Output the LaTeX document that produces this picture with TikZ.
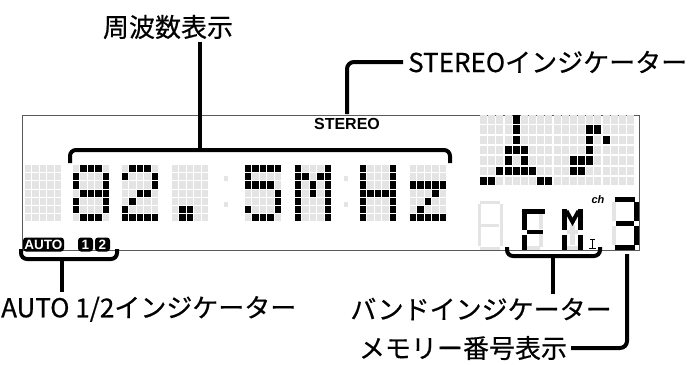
\documentclass[tikz,border=0pt]{standalone}
\usepackage{fontspec}
\setmainfont{Liberation Sans}
\newfontfamily\jpfont[FakeBold=0.5]{Noto Sans CJK JP}
\usetikzlibrary{calc,positioning}
\definecolor{lcdOff}{RGB}{228,228,228}
\definecolor{frameGray}{RGB}{90,90,90}
\tikzset{
  lbl/.style={font=\jpfont\fontsize{26}{28}\selectfont,inner sep=0pt},
  leader/.style={line width=4pt,line cap=butt},
  bracket/.style={line width=4pt,rounded corners=6pt},
  seg/.style={line width=4.6pt,line cap=butt},
  segoff/.style={seg,lcdOff},
  badge/.style={fill=black,text=white,rounded corners=3pt,inner sep=0pt,
    minimum height=14pt,font=\bfseries\fontsize{13.5}{14}\selectfont}
}
% one 5x7 dot-matrix digit: unlit grid, then the lit cells
\newcommand{\MatrixDigit}[3]{%
  \foreach \c in {0,...,4}
    \foreach \r in {0,...,6}
      \fill[lcdOff] ({#1+\c*7.4},{#2+\r*8.2}) rectangle ++(6.4,7.2);
  \foreach \c/\r in {#3}
    \fill[black] ({#1+\c*7.4},{#2+\r*8.2}) rectangle ++(6.4,7.2);}
\begin{document}
\begin{tikzpicture}[x=1pt,y=-1pt]
  \useasboundingbox (0,0) rectangle (692,364);
  % display window
  \draw[frameGray,line width=.8pt] (22,115) rectangle (639,250);
  % frequency digits
  \MatrixDigit{25}{165}{}
  \MatrixDigit{73}{165}{1/0,2/0,3/0,0/1,4/1,0/2,4/2,1/3,2/3,3/3,4/3,0/4,4/4,0/5,4/5,1/6,2/6,3/6}
  \MatrixDigit{122}{165}{1/0,2/0,3/0,0/1,4/1,4/2,2/3,3/3,1/4,0/5,0/6,1/6,2/6,3/6,4/6}
  \MatrixDigit{172}{165}{1/5,2/5,1/6,2/6}
  \MatrixDigit{245}{165}{0/0,1/0,2/0,3/0,4/0,0/1,0/2,1/2,2/2,3/2,4/3,4/4,0/5,4/5,1/6,2/6,3/6}
  \MatrixDigit{295}{165}{0/0,4/0,0/1,1/1,3/1,4/1,0/2,2/2,4/2,0/3,2/3,4/3,0/4,4/4,0/5,4/5,0/6,4/6}
  \MatrixDigit{360}{165}{0/0,4/0,0/1,4/1,0/2,4/2,0/3,1/3,2/3,3/3,4/3,0/4,4/4,0/5,4/5,0/6,4/6}
  \MatrixDigit{410}{165}{0/2,1/2,2/2,3/2,4/2,3/3,2/4,1/5,0/6,1/6,2/6,3/6,4/6}
  \foreach \yy in {176,202} {
    \fill[lcdOff] (224,\yy) rectangle ++(4,5);
    \fill[lcdOff] (344,\yy) rectangle ++(4,5);
  }
  \node[font=\bfseries\fontsize{16}{16}\selectfont,inner sep=0pt] (stereoInd) at (347,124) {STEREO};
  % level graphic, top right
  \foreach \c in {0,...,18}
    \foreach \r in {0,...,6}
      \fill[lcdOff] ({480+\c*8.17},{115+\r*10.3}) rectangle ++(7,8.5);
  \foreach \c/\r in {4/0,4/1,4/2,3/3,4/3,5/3,3/4,5/4,2/5,3/5,4/5,5/5,6/5,0/6,1/6,7/6,8/6,
                     13/1,14/1,13/2,15/2,13/3,11/4,12/4,13/4,11/5,12/5}
    \fill[black] ({480+\c*8.17},{115+\r*10.3}) rectangle ++(7,8.5);
  % band characters
  \draw[segoff,line width=3pt] (480,202) -- (500,202) (479,204) -- (479,246) (501,204) -- (501,246)
    (481,225) -- (499,225) (480,248) -- (500,248);
  \draw[segoff] (541,213) -- (541,229) (541,234) -- (541,247) (526,248) -- (540,248);
  \draw[seg] (522,211.5) -- (545,211.5) (524.5,214) -- (524.5,229.5) (527,232) -- (543,232)
    (524.5,234.5) -- (524.5,250);
  \draw[segoff] (567,232) -- (578,232) (567,248) -- (578,248) (572.5,225) -- (572.5,245);
  \draw[seg] (564.5,209) -- (564.5,229.5) (564.5,234.5) -- (564.5,250)
    (580.5,209) -- (580.5,229.5) (580.5,234.5) -- (580.5,250);
  \draw[line width=4pt] (566.5,211) -- (572.5,222) -- (578.5,211);
  \draw[line width=1.1pt] (590,239.5) -- (595,239.5) (592.5,239.5) -- (592.5,248.5) (589,248.5) -- (596,248.5);
  \node[font=\bfseries\itshape\fontsize{11}{11}\selectfont,inner sep=0pt] (chInd) at (598,200) {ch};
  % memory number
  \draw[segoff] (614,202) -- (614,221) (614,226) -- (614,245);
  \draw[seg] (615,199.5) -- (635,199.5) (636.5,202) -- (636.5,221) (616,223.5) -- (634,223.5)
    (636.5,226) -- (636.5,245) (615,247.5) -- (635,247.5);
  % auto indicator
  \node[badge,minimum width=41pt] (autoInd) at (43.5,244.5) {AUTO};
  \node[badge,minimum width=15pt] (autoOne) at (85.5,244.5) {1};
  \node[badge,minimum width=15pt] (autoTwo) at (102.5,244.5) {2};
  % brackets
  \draw[bracket] (70,163) -- (70,150) -- (450,150) -- (450,163);
  \draw[bracket] (21,249) -- (21,259) -- (117,259) -- (117,249);
  \draw[bracket] (507,247) -- (507,256) -- (600,256) -- (600,247);
  % labels
  \node[lbl] (freqLabel) at (168,27) {周波数表示};
  \node[lbl,anchor=west] (stereoLabel) at (408,62) {STEREOインジケーター};
  \node[lbl,anchor=west] (autoLabel) at (1,309) {AUTO 1/2インジケーター};
  \node[lbl] (bandLabel) at (481,309) {バンドインジケーター};
  \node[lbl] (memLabel) at (463,348) {メモリー番号表示};
  % leaders
  \coordinate (freqTip) at (200,150);
  \coordinate (stereoTip) at (347,114);
  \coordinate (autoTip) at (62,259);
  \coordinate (bandTip) at (553,256);
  \coordinate (memTip) at (627,254);
  \draw[leader] (freqTip) -- ([yshift=-3pt]freqTip |- freqLabel.south);
  \draw[leader,rounded corners=7pt] ([xshift=-5pt]stereoLabel.west) -| (stereoTip);
  \draw[leader] (autoTip) -- ([yshift=4pt]autoTip |- autoLabel.north);
  \draw[leader] (bandTip) -- ([yshift=4pt]bandTip |- bandLabel.north);
  \draw[leader,rounded corners=7pt] ([xshift=4pt]memLabel.east) -| (memTip);
\end{tikzpicture}
\end{document}
